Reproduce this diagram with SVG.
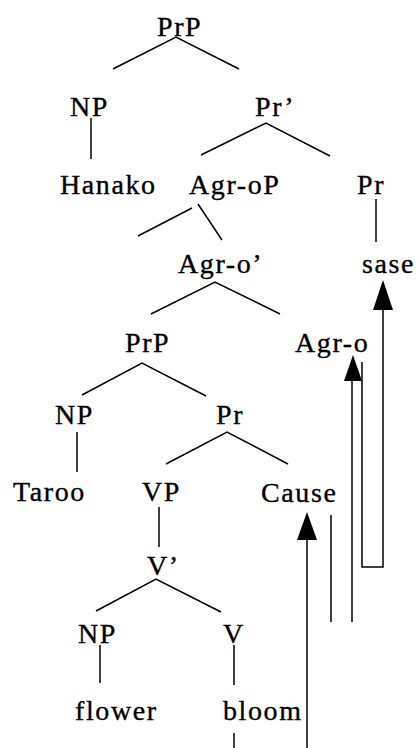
<svg xmlns="http://www.w3.org/2000/svg" width="417" height="748" viewBox="0 0 417 748">
<style>
text{font-family:"Liberation Serif","Times New Roman",serif;font-size:28px;letter-spacing:1.6px;fill:#000;stroke:#000;stroke-width:0.35}
.e{stroke:#000;stroke-width:1.5;fill:none}
.h{fill:#000;stroke:none}
</style>
<rect width="417" height="748" fill="#fff"/>
<g id="n-PrP"><text x="157" y="36">PrP</text></g>
<g id="n-NP1"><text x="70" y="116">NP</text></g>
<g id="n-Pr-bar"><text x="255" y="116">Pr’</text></g>
<g id="n-Hanako"><text x="60" y="194">Hanako</text></g>
<g id="n-AgroP"><text x="189" y="194">Agr-oP</text></g>
<g id="n-Pr1"><text x="357" y="194">Pr</text></g>
<g id="n-Agro-bar"><text x="178" y="273">Agr-o’</text></g>
<g id="n-sase"><text x="362" y="273">sase</text></g>
<g id="n-PrP2"><text x="125" y="352">PrP</text></g>
<g id="n-Agro"><text x="295" y="352">Agr-o</text></g>
<g id="n-NP2"><text x="55" y="424">NP</text></g>
<g id="n-Pr2"><text x="216" y="424">Pr</text></g>
<g id="n-Taroo"><text x="13" y="501">Taroo</text></g>
<g id="n-VP"><text x="142" y="501">VP</text></g>
<g id="n-Cause"><text x="261" y="502">Cause</text></g>
<g id="n-V-bar"><text x="147" y="575">V’</text></g>
<g id="n-NP3"><text x="78" y="643">NP</text></g>
<g id="n-V"><text x="223" y="643">V</text></g>
<g id="n-flower"><text x="75" y="720">flower</text></g>
<g id="n-bloom"><text x="223" y="720">bloom</text></g>
<g id="connectors">
<path class="e" d="M113,69L176,37L239,69"/>
<path class="e" d="M91,118V159"/>
<path class="e" d="M201,155L266,123L330,156"/>
<path class="e" d="M376,199V242"/>
<path class="e" d="M192,208L138,236M198,204L222,240"/>
<path class="e" d="M151,314L215,282L280,314"/>
<path class="e" d="M82,395L142,363L206,396"/>
<path class="e" d="M77,432V472"/>
<path class="e" d="M166,464L227,432L288,464"/>
<path class="e" d="M159,507V547"/>
<path class="e" d="M96,611L156,579L221,612"/>
<path class="e" d="M100,645V683M234,645V685"/>
<path class="e" d="M234,733V748"/>
<path class="e" d="M362,362V567H383V308"/>
<polygon class="h" points="383,280 373,310 393,310"/>
<path class="e" d="M352,378V622"/>
<polygon class="h" points="353,355 344,381 362,381"/>
<path class="e" d="M331,515V622"/>
<path class="e" d="M307,538V748"/>
<polygon class="h" points="307,512 297,540 317,540"/>
</g>
</svg>
